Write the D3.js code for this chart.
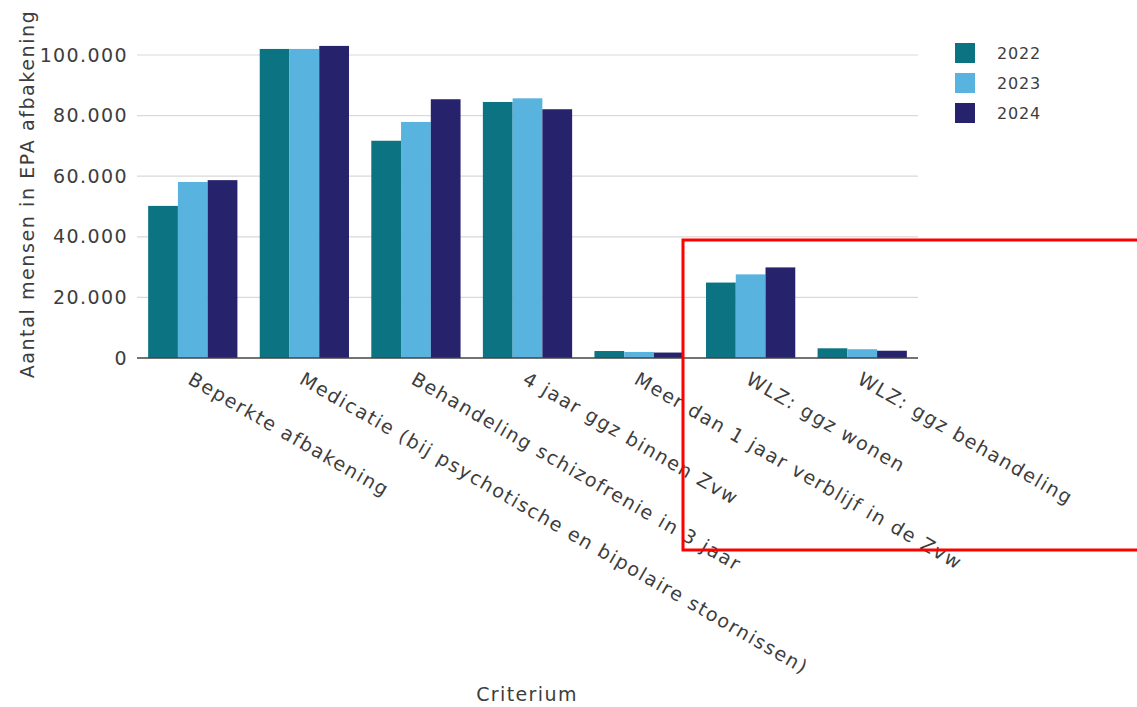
<!DOCTYPE html>
<html><head><meta charset="utf-8">
<script src="https://cdn.jsdelivr.net/npm/d3@7"></script>
<style>body{margin:0;background:#fff}svg{display:block}</style>
</head><body>
<svg id="chart" width="1137" height="707"></svg>
<script>
const categories = ["Beperkte afbakening","Medicatie (bij psychotische en bipolaire stoornissen)","Behandeling schizofrenie in 3 jaar","4 jaar ggz binnen Zvw","Meer dan 1 jaar verblijf in de Zvw","WLZ: ggz wonen","WLZ: ggz behandeling"];
const years = ["2022","2023","2024"];
const values2022 = [50200,102000,71700,84500,2300,24900,3200];
const values2023 = [58100,102000,77900,85700,2000,27600,2900];
const values2024 = [58700,103000,85400,82100,1800,29900,2400];
const yTicks = [0,20000,40000,60000,80000,100000];
const colors = ["#0b7381","#58b3df","#26226c"];
const series = [values2022, values2023, values2024];

(function(){
const svg = d3.select("#chart");
const font = "'DejaVu Sans', sans-serif";
const pL = 137, pR = 918, pB = 358;
const x = d3.scaleBand().domain(categories).range([pL,pR]).paddingInner(0.2).paddingOuter(0.1);
const xs = d3.scaleBand().domain(years).range([0,x.bandwidth()]);
const y = d3.scaleLinear().domain([0,100000]).range([pB,55]);

function styleText(sel,size,ls){
  return sel.attr("font-family",font).attr("font-size",size).attr("letter-spacing",ls).attr("fill","#3d3d3d");
}

// grid
svg.append("g").selectAll("line").data(yTicks.slice(1)).join("line")
  .attr("x1",pL).attr("x2",pR).attr("y1",d=>y(d)).attr("y2",d=>y(d))
  .attr("stroke","#d9d9d9").attr("stroke-width",1.2);

// y axis
const yAxis = svg.append("g").attr("transform",`translate(${pL},0)`)
  .call(d3.axisLeft(y).tickValues(yTicks).tickSize(0).tickPadding(9)
    .tickFormat(d=>d3.format(",")(d).replace(/,/g,".")));
yAxis.select(".domain").remove();
styleText(yAxis.selectAll("text"),19,1.4);

// bars
const g = svg.append("g");
series.forEach((vals,si)=>{
  g.selectAll(null).data(categories).join("rect")
    .attr("x",c=>x(c)+xs(years[si]))
    .attr("width",xs.bandwidth())
    .attr("y",(c,i)=>y(vals[i]))
    .attr("height",(c,i)=>y(0)-y(vals[i]))
    .attr("fill",colors[si]);
});

// baseline
svg.append("line").attr("x1",pL).attr("x2",pR).attr("y1",y(0)).attr("y2",y(0))
  .attr("stroke","#444").attr("stroke-width",1.5);

// x labels
styleText(svg.append("g").selectAll("text").data(categories).join("text")
  .attr("transform",c=>`translate(${x(c)+x.bandwidth()/2-6},${y(0)+25}) rotate(30)`)
  .attr("text-anchor","start"),19,1.6)
  .text(d=>d);

// y title
styleText(svg.append("text").attr("transform","translate(34,194) rotate(-90)")
  .attr("text-anchor","middle"),19,1.6)
  .text("Aantal mensen in EPA afbakening");

// x title
styleText(svg.append("text").attr("x",527).attr("y",701).attr("text-anchor","middle"),19,1.4)
  .text("Criterium");

// legend
const lg = svg.append("g").attr("transform","translate(955,43)");
years.forEach((yr,i)=>{
  lg.append("rect").attr("x",0).attr("y",i*30).attr("width",20).attr("height",20).attr("fill",colors[i]);
  styleText(lg.append("text").attr("x",42).attr("y",i*30+16),16,0.8).text(yr);
});

// red highlight box
svg.append("rect").attr("x",683).attr("y",240).attr("width",470).attr("height",310)
  .attr("fill","none").attr("stroke","#ff0000").attr("stroke-width",3);
})();
</script>
</body></html>
